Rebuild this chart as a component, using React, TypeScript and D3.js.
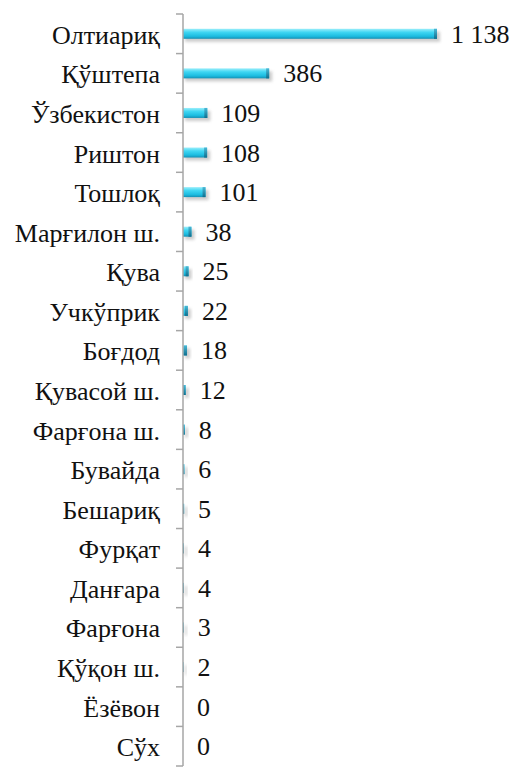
import React from "react";
import * as d3 from "d3";

const categories = ["Олтиариқ","Қўштепа","Ўзбекистон","Риштон","Тошлоқ","Марғилон ш.","Қува","Учкўприк","Боғдод","Қувасой ш.","Фарғона ш.","Бувайда","Бешариқ","Фурқат","Данғара","Фарғона","Қўқон ш.","Ёзёвон","Сўх"];
const values = [1138,386,109,108,101,38,25,22,18,12,8,6,5,4,4,3,2,0,0];
const valueLabels = ["1 138","386","109","108","101","38","25","22","18","12","8","6","5","4","4","3","2","0","0"];

export default function App() {
  const W = 516, H = 768;
  const x0 = 183;
  const x = d3.scaleLinear().domain([0, 1138]).range([x0, 437]);
  const y = d3.scaleBand<string>().domain(categories).range([14, 766]);
  const bh = 10;
  const font = "Liberation Serif";
  return (
    <svg width={W} height={H} style={{ position: "absolute", left: 0, top: 0 }}>
      <defs>
        <linearGradient id="cyl" x1="0" y1="0" x2="0" y2="1">
          <stop offset="0" stopColor="#9beefb" />
          <stop offset="0.35" stopColor="#3fd6f2" />
          <stop offset="0.75" stopColor="#1cbce0" />
          <stop offset="1" stopColor="#1590b4" />
        </linearGradient>
        <linearGradient id="cap" x1="0" y1="0" x2="0" y2="1">
          <stop offset="0" stopColor="#4ab8d6" />
          <stop offset="1" stopColor="#0e6f8e" />
        </linearGradient>
        <filter id="sh" x="-10%" y="-50%" width="130%" height="250%">
          <feGaussianBlur stdDeviation="1.6" />
        </filter>
      </defs>
      <rect width={W} height={H} fill="#fff" />
      {categories.map((c, i) => {
        const cy = (y(c) as number) + y.bandwidth() / 2;
        const xe = x(values[i]);
        const w = xe - x0;
        return (
          <g key={c}>
            {w > 0 && (
              <>
                <rect x={x0 + 2} y={cy - bh / 2 + 3} width={w + 1} height={bh} fill="#999" opacity={0.5} filter="url(#sh)" />
                <rect x={x0} y={cy - bh / 2} width={w} height={bh} fill="url(#cyl)" />
                <rect x={Math.max(x0, xe - 3)} y={cy - bh / 2} width={Math.min(3, w)} height={bh} fill="url(#cap)" />
              </>
            )}
            <text x={160} y={cy + 10} textAnchor="end" style={{ fontFamily: font, fontSize: "26px" }} fill="#111">{c}</text>
            <text x={xe + 14} y={cy + 9} textAnchor="start" style={{ fontFamily: font, fontSize: "26px" }} fill="#111">{valueLabels[i]}</text>
          </g>
        );
      })}
      <line x1={x0} x2={x0} y1={14} y2={766} stroke="#a6a6a6" strokeWidth={1.5} />
      {y.domain().map((c) => (
        <line key={c} x1={176} x2={x0} y1={y(c) as number} y2={y(c) as number} stroke="#a6a6a6" strokeWidth={1.5} />
      ))}
      <line x1={176} x2={x0} y1={766} y2={766} stroke="#a6a6a6" strokeWidth={1.5} />
    </svg>
  );
}
